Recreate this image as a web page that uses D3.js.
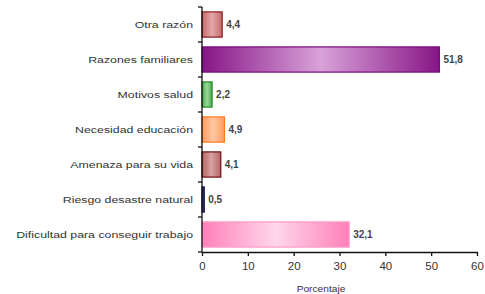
<!DOCTYPE html>
<html>
<head>
<meta charset="utf-8">
<script src="https://cdn.jsdelivr.net/npm/d3@7"></script>
<style>
  body { margin: 0; background: #fff; }
  svg text { font-family: "Liberation Sans", Arial, sans-serif; }
</style>
</head>
<body>
<svg id="chart"></svg>
<script>
// Data
const categories = [
    "Otra razón",
    "Razones familiares",
    "Motivos salud",
    "Necesidad educación",
    "Amenaza para su vida",
    "Riesgo desastre natural",
    "Dificultad para conseguir trabajo"
];
const values = [ 4.4, 51.8, 2.2, 4.9, 4.1, 0.5, 32.1 ];
const xTicks = [ 0, 10, 20, 30, 40, 50, 60 ];

// Bar colours: [edge, middle, stroke]
const barColors = [
    [ "#c46a6a", "#e4a8a8", "#8b1c1c" ],
    [ "#861686", "#d9a2d9", "#7a0a7a" ],
    [ "#46aa4a", "#9ad89a", "#2a8a2a" ],
    [ "#ff9a60", "#ffc8a2", "#ff7a1e" ],
    [ "#b46464", "#d8a2a2", "#6e0e0e" ],
    [ "#1c1c4e", "#3a3a7a", "#1c1c4e" ],
    [ "#ff80ba", "#ffd6ea", "#ff9ac8" ]
];

const width = 485, height = 294;
const margin = { top: 7, right: 8, bottom: 42, left: 202 };

const svg = d3.select("#chart")
              .attr("width", width)
              .attr("height", height);

const defs = svg.append("defs");
barColors.forEach(function(c, i) {
    const g = defs.append("linearGradient")
                  .attr("id", "grad" + i)
                  .attr("x1", "0%").attr("x2", "100%")
                  .attr("y1", "0%").attr("y2", "0%");
    g.append("stop").attr("offset", "0%").attr("stop-color", c[0]);
    g.append("stop").attr("offset", "50%").attr("stop-color", c[1]);
    g.append("stop").attr("offset", "100%").attr("stop-color", c[0]);
});

// Scales
const x = d3.scaleLinear()
            .domain([0, 60])
            .range([margin.left, width - margin.right]);
const y = d3.scaleBand()
            .domain(categories)
            .range([margin.top, height - margin.bottom])
            .paddingInner(0.28)
            .paddingOuter(0.14);

const plotBottom = height - margin.bottom;

// Bars
svg.append("g")
   .selectAll("rect")
   .data(values)
   .join("rect")
   .attr("x", x(0))
   .attr("y", function(d, i) { return y(categories[i]); })
   .attr("width", function(d) { return x(d) - x(0); })
   .attr("height", y.bandwidth())
   .attr("fill", function(d, i) { return "url(#grad" + i + ")"; })
   .attr("stroke", function(d, i) { return barColors[i][2]; })
   .attr("stroke-width", 1.2);

// Value labels
svg.append("g")
   .selectAll("text")
   .data(values)
   .join("text")
   .attr("x", function(d) { return x(d) + 4; })
   .attr("y", function(d, i) { return y(categories[i]) + y.bandwidth() / 2; })
   .attr("dy", "0.35em")
   .attr("font-size", 10)
   .attr("font-weight", "bold")
   .attr("fill", "#444")
   .text(function(d) { return d3.format(".1f")(d).replace(".", ","); });

// Y axis: line with ticks between categories
const yAxis = svg.append("g");
yAxis.append("line")
     .attr("x1", x(0)).attr("x2", x(0))
     .attr("y1", margin.top).attr("y2", plotBottom)
     .attr("stroke", "#111").attr("stroke-width", 1.3);
const step = y.step();
const bounds = d3.range(categories.length + 1).map(function(i) {
    return margin.top + i * step;
});
yAxis.selectAll("line.tick")
     .data(bounds)
     .join("line")
     .attr("class", "tick")
     .attr("x1", x(0) - 4).attr("x2", x(0))
     .attr("y1", function(d) { return d; })
     .attr("y2", function(d) { return d; })
     .attr("stroke", "#111").attr("stroke-width", 1.3);

// Category labels
yAxis.selectAll("text")
     .data(categories)
     .join("text")
     .attr("transform", function(d) {
         return "translate(" + (x(0) - 9) + "," + (y(d) + y.bandwidth() / 2) + ") scale(1.3,1)";
     })
     .attr("dy", "0.35em")
     .attr("text-anchor", "end")
     .attr("font-size", 9.5)
     .attr("fill", "#333")
     .text(function(d) { return d; });

// X axis
const xAxis = svg.append("g")
                 .attr("transform", "translate(0," + plotBottom + ")")
                 .call(d3.axisBottom(x).tickValues(xTicks).tickSize(4).tickSizeOuter(0).tickPadding(7));
xAxis.select(".domain").attr("stroke", "#111").attr("stroke-width", 1.3);
xAxis.selectAll(".tick line").attr("stroke", "#111").attr("stroke-width", 1.3);
xAxis.selectAll(".tick text")
     .attr("font-size", 10)
     .attr("fill", "#333")
     .attr("font-family", "Liberation Sans, Arial, sans-serif")
     .attr("transform", "scale(1.15,1)");

// X axis title
svg.append("text")
   .attr("transform", "translate(321," + (height - 2) + ") scale(1.2,1)")
   .attr("text-anchor", "middle")
   .attr("font-size", 8.5)
   .attr("fill", "#333")
   .text("Porcentaje");
</script>
</body>
</html>
